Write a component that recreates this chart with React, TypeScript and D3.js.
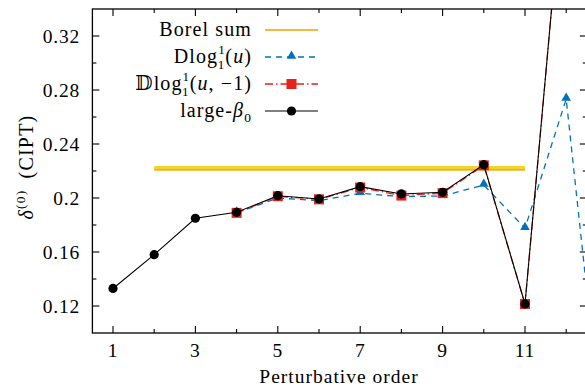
import React from "react";
import * as d3 from "d3";

const orders = [1, 2, 3, 4, 5, 6, 7, 8, 9, 10, 11, 12];
const largeBeta0 = [0.133, 0.158, 0.185, 0.1894, 0.2017, 0.1993, 0.2084, 0.203, 0.2042, 0.2247, 0.1215, 0.46];
const dlogUOrders = [4, 5, 6, 7, 8, 9, 10, 11, 12, 13];
const dlogU = [0.189, 0.2, 0.198, 0.2035, 0.201, 0.2015, 0.2096, 0.1776, 0.2733, -0.01];
const dlogUm1Orders = [4, 5, 6, 7, 8, 9, 10, 11, 12];
const dlogUm1 = [0.189, 0.2013, 0.199, 0.2078, 0.2018, 0.2036, 0.2242, 0.1215, 0.46];
const borelRange = [2, 11];
const borelValue = 0.2208;
const borelBand = [0.2205, 0.2237];
const xTicks = [1, 2, 3, 4, 5, 6, 7, 8, 9, 10, 11, 12];
const xTickLabels = ["1", "3", "5", "7", "9", "11"];
const yMajor = [0.12, 0.16, 0.2, 0.24, 0.28, 0.32];
const yMajorLabels = ["0.12", "0.16", "0.2", "0.24", "0.28", "0.32"];
const yMinor = [0.14, 0.18, 0.22, 0.26, 0.3];

const W = 585;
const H = 392;
const L = 92.4;
const R = 586.8;
const T = 9;
const B = 333;
const FONT = "'Liberation Serif', 'DejaVu Serif', serif";
const BLUE = "#0072bd";
const RED = "#e8211b";
const ORANGE = "#f0a30a";
const YELLOW = "#f3d42a";

export default function App() {
  const x = d3.scaleLinear().domain([0.5, 12.5]).range([L, R]);
  const y = d3.scaleLinear().domain([0.1, 0.34]).range([B, T]);
  const line = d3
    .line<[number, number]>()
    .x((d) => x(d[0]))
    .y((d) => y(d[1]));

  const blackPts: [number, number][] = orders.map((o, i) => [o, largeBeta0[i]]);
  const bluePts: [number, number][] = dlogUOrders.map((o, i) => [o, dlogU[i]]);
  const redPts: [number, number][] = dlogUm1Orders.map((o, i) => [o, dlogUm1[i]]);

  const tri = d3.symbol().type(d3.symbolTriangle).size(40)();

  const legendX0 = 265;
  const legendX1 = 318;
  const legendMid = 291.5;
  const textX = 252;
  const rows = [30, 57, 84, 111];
  const LS = 1.1;

  return (
    <svg width={W} height={H} style={{ display: "block", position: "absolute", left: 0, top: 0 }}>
      <defs>
        <clipPath id="plotclip">
          <rect x={L} y={T} width={R - L} height={B - T} />
        </clipPath>
      </defs>
      <rect x={0} y={0} width={W} height={H} fill="white" />

      {/* Borel band */}
      <rect
        x={x(borelRange[0])}
        y={y(borelBand[1])}
        width={x(borelRange[1]) - x(borelRange[0])}
        height={y(borelBand[0]) - y(borelBand[1])}
        fill={YELLOW}
      />
      <line
        x1={x(borelRange[0])}
        x2={x(borelRange[1])}
        y1={y(borelValue)}
        y2={y(borelValue)}
        stroke={ORANGE}
        strokeWidth={1.4}
      />

      <g clipPath="url(#plotclip)">
        <path d={line(bluePts) || ""} fill="none" stroke={BLUE} strokeWidth={1.3} strokeDasharray="6,5" />
        {bluePts.map((p, i) => (
          <path key={"t" + i} d={tri || ""} transform={`translate(${x(p[0])},${y(p[1]) - 1})`} fill={BLUE} />
        ))}
        <path d={line(redPts) || ""} fill="none" stroke={RED} strokeWidth={1.3} strokeDasharray="8,3,1.5,3" />
        {redPts.map((p, i) => (
          <rect key={"s" + i} x={x(p[0]) - 5} y={y(p[1]) - 5} width={10} height={10} fill={RED} />
        ))}
        <path d={line(blackPts) || ""} fill="none" stroke="black" strokeWidth={1.1} />
        {blackPts.map((p, i) => (
          <circle key={"c" + i} cx={x(p[0])} cy={y(p[1])} r={4.6} fill="black" />
        ))}
      </g>

      {/* frame */}
      <rect x={L} y={T} width={R - L} height={B - T} fill="none" stroke="black" strokeWidth={1.3} />

      {/* x ticks */}
      {xTicks.map((t) => {
        const len = t % 2 === 1 ? 7 : 4;
        return (
          <g key={"xt" + t}>
            <line x1={x(t)} x2={x(t)} y1={B} y2={B - len} stroke="black" strokeWidth={1.1} />
            <line x1={x(t)} x2={x(t)} y1={T} y2={T + len} stroke="black" strokeWidth={1.1} />
          </g>
        );
      })}
      {xTickLabels.map((lab) => (
        <text key={"xl" + lab} x={x(+lab)} y={357} textAnchor="middle" fontFamily={FONT} fontSize={19.5} letterSpacing={0.8}>
          {lab}
        </text>
      ))}

      {/* y ticks */}
      {yMajor.map((t, i) => (
        <g key={"ym" + i}>
          <line x1={L} x2={L + 7} y1={y(t)} y2={y(t)} stroke="black" strokeWidth={1.1} />
          <line x1={R} x2={R - 7} y1={y(t)} y2={y(t)} stroke="black" strokeWidth={1.1} />
          <text x={80} y={y(t) + 6.5} textAnchor="end" fontFamily={FONT} fontSize={19.5} letterSpacing={0.8}>
            {yMajorLabels[i]}
          </text>
        </g>
      ))}
      {yMinor.map((t, i) => (
        <g key={"yn" + i}>
          <line x1={L} x2={L + 4} y1={y(t)} y2={y(t)} stroke="black" strokeWidth={1.1} />
          <line x1={R} x2={R - 4} y1={y(t)} y2={y(t)} stroke="black" strokeWidth={1.1} />
        </g>
      ))}

      {/* axis labels */}
      <text x={339} y={383} textAnchor="middle" fontFamily={FONT} fontSize={19.5} letterSpacing={1}>
        Perturbative order
      </text>
      <text
        transform="translate(33,167) rotate(-90)"
        textAnchor="middle"
        fontFamily={FONT}
        fontSize={20}
        letterSpacing={1.2}
      >
        <tspan fontStyle="italic">δ</tspan>
        <tspan dy={-8} fontSize={13.5}>(0)</tspan>
        <tspan dy={8}>{"\u2002(CIPT)"}</tspan>
      </text>

      {/* legend */}
      <rect x={130} y={16} width={195} height={106} fill="white" />
      <text x={textX} y={rows[0] + 6} textAnchor="end" fontFamily={FONT} fontSize={20} letterSpacing={LS}>
        Borel sum
      </text>
      <line x1={legendX0} x2={legendX1} y1={rows[0]} y2={rows[0]} stroke={ORANGE} strokeWidth={1.4} />

      <text x={textX} y={rows[1] + 6} textAnchor="end" fontFamily={FONT} fontSize={20} letterSpacing={LS}>
        Dlog
        <tspan dy={-9} fontSize={13}>1</tspan>
        <tspan dx={-7.6} dy={15} fontSize={13}>1</tspan>
        <tspan dy={-6}>(</tspan>
        <tspan fontStyle="italic">u</tspan>)
      </text>
      <line x1={legendX0} x2={legendX1} y1={rows[1]} y2={rows[1]} stroke={BLUE} strokeWidth={1.3} strokeDasharray="6,5" />
      <path d={tri || ""} transform={`translate(${legendMid},${rows[1] - 1})`} fill={BLUE} />

      <text x={textX} y={rows[2] + 6} textAnchor="end" fontFamily={FONT} fontSize={20} letterSpacing={LS}>
        {"\u{1D53B}"}log
        <tspan dy={-9} fontSize={13}>1</tspan>
        <tspan dx={-7.6} dy={15} fontSize={13}>1</tspan>
        <tspan dy={-6}>(</tspan>
        <tspan fontStyle="italic">u</tspan>, −1)
      </text>
      <line x1={legendX0} x2={legendX1} y1={rows[2]} y2={rows[2]} stroke={RED} strokeWidth={1.3} strokeDasharray="8,3,1.5,3" />
      <rect x={legendMid - 5} y={rows[2] - 5} width={10} height={10} fill={RED} />

      <text x={textX} y={rows[3] + 6} textAnchor="end" fontFamily={FONT} fontSize={20} letterSpacing={LS}>
        large-
        <tspan fontStyle="italic">β</tspan>
        <tspan dy={5} fontSize={13.5}>0</tspan>
      </text>
      <line x1={legendX0} x2={legendX1} y1={rows[3]} y2={rows[3]} stroke="black" strokeWidth={1.1} />
      <circle cx={legendMid} cy={rows[3]} r={4.6} fill="black" />
    </svg>
  );
}
